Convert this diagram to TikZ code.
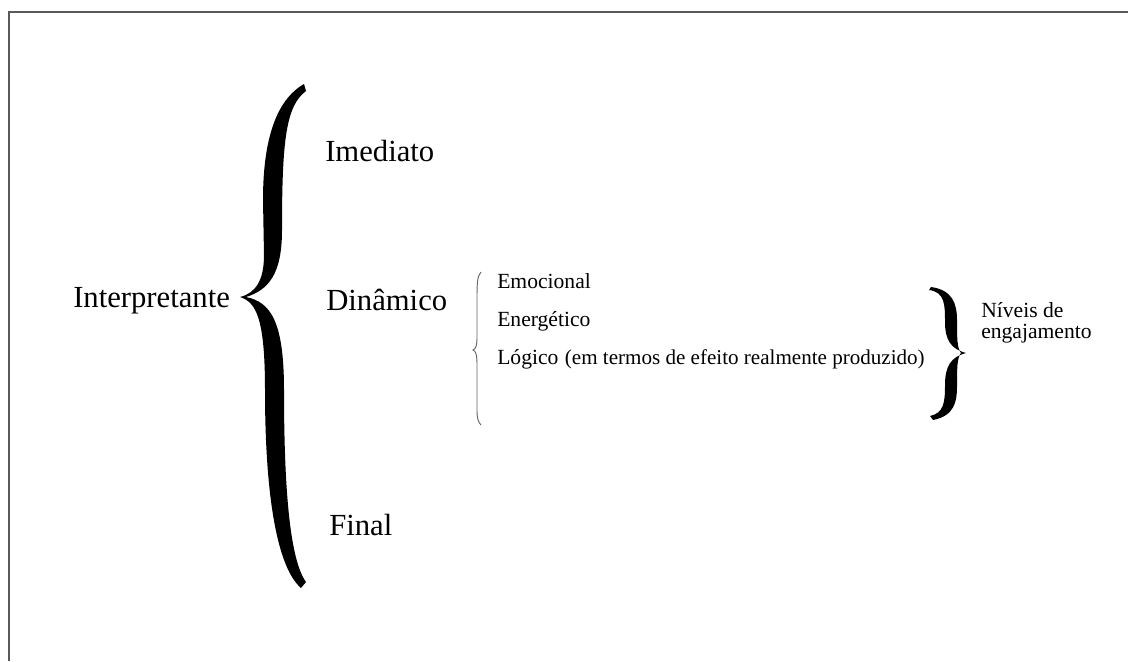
\documentclass[tikz,border=0pt]{standalone}
\usepackage{fontspec}
\setmainfont{Liberation Serif}
\begin{document}
\begin{tikzpicture}[x=0.75pt,y=-0.75pt,
    big/.style={anchor=base west,inner sep=0pt,font=\fontsize{23}{27}\selectfont},
    small/.style={anchor=base west,inner sep=0pt,font=\fontsize{16.2}{19}\selectfont}]
      \useasboundingbox (0,0) rectangle (1128,661);
      \draw[line width=1.2pt,black!65] (9,661) -- (9,12) -- (1128,12);
      \node[big] (interp) at (73,307) {Interpretante};
      \node[big] (imed) at (325,161) {Imediato};
      \node[big] (dinam) at (326,310) {Dinâmico};
      \node[big] (final) at (329,535) {Final};
      \node[small] (emoc) at (497,288) {Emocional};
      \node[small] (energ) at (497,326) {Energético};
      \node[small] (logic) at (497,364) {Lógico\hspace{0.3em}{\fontsize{15.8}{19}\selectfont(em termos de efeito realmente produzido)}};
      \node[small] (niveis) at (981,317) {Níveis de};
      \node[small] (engaj) at (981,338) {engajamento};
      \fill (304,84) .. controls (276,100) and (263,140) .. (263,200)
      -- (264,255) .. controls (264,280) and (256,293) .. (240,297)
      .. controls (256,302) and (265,318) .. (265,390)
      .. controls (265,500) and (278,568) .. (301,588)
      -- (306,582) .. controls (290,560) and (284,490) .. (284,390)
      .. controls (284,320) and (270,302) .. (246,297)
      .. controls (268,290) and (282,275) .. (282,230)
      .. controls (282,140) and (286,106) .. (306,91) -- cycle;
      \fill (929,290) .. controls (945,292) and (945,305) .. (945,322)
      .. controls (945,340) and (951,349) .. (966,353)
      .. controls (951,357) and (945,366) .. (945,385)
      .. controls (945,402) and (944,413) .. (930,416)
      -- (933,420) .. controls (954,416) and (957,402) .. (957,387)
      .. controls (957,368) and (957,358) .. (961,353)
      .. controls (957,348) and (957,338) .. (957,320)
      .. controls (957,303) and (952,290) .. (931,287) -- cycle;
      \draw[black!60,line width=0.7pt] (481,272) .. controls (477,276) and (477,285) .. (477,300)
      -- (477,337) .. controls (477,345) and (476,349) .. (473,350)
      .. controls (476,351) and (477,355) .. (477,365)
      -- (477,410) .. controls (477,418) and (478,422) .. (481,425);
    \end{tikzpicture}
\end{document}
